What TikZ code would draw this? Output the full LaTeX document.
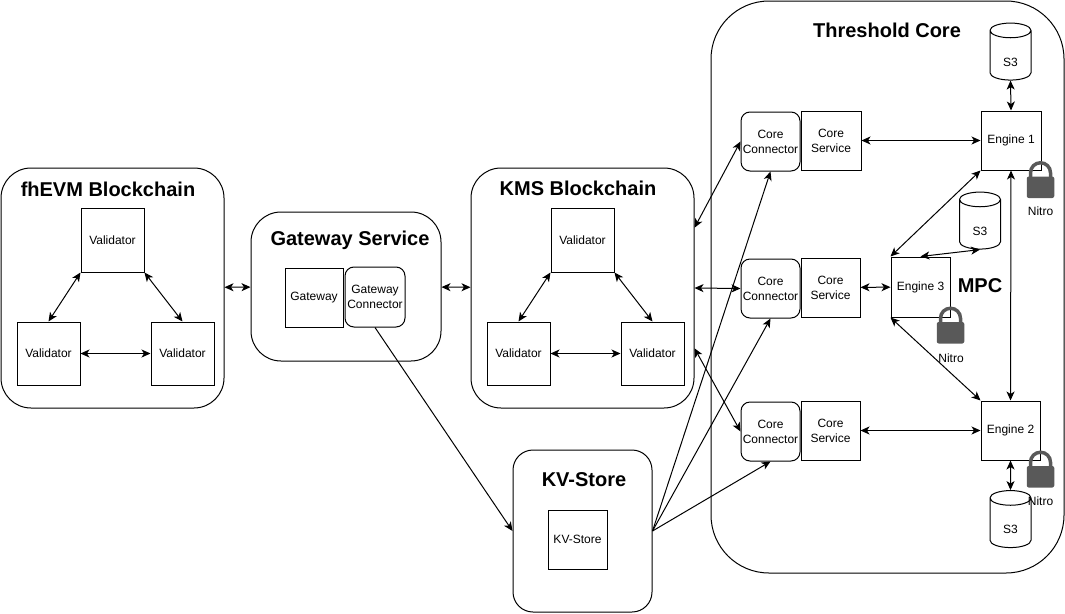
\documentclass[tikz,border=0pt]{standalone}
\usepackage{fontspec}
\setmainfont{Liberation Sans}
\usetikzlibrary{shapes.geometric,arrows.meta,calc}

\begin{document}
\begin{tikzpicture}
[x=1pt,y=-1pt,line width=1pt,>={Stealth[length=9pt,width=8pt,inset=2.5pt]},
font=\fontsize{12}{15}\selectfont,
group/.style = {draw, rounded corners=30pt, inner sep=0pt},
box/.style = {draw, inner sep=0pt, align=center},
connector/.style = {draw, rounded corners=9pt, inner sep=0pt, align=center},
store/.style = {draw, shape=cylinder, shape border rotate=90, aspect=1.0, inner sep=0pt, minimum width=41pt, minimum height=57pt, text height=21pt, text depth=0pt},
heading/.style = {font=\fontsize{20}{24}\selectfont\bfseries},
nitrotext/.style = {inner sep=0pt},
lockpic/.pic = {
\draw[line width=3.5pt,color=lockgray] (-10,0) -- (-10,-7.25) arc[start angle=180,end angle=360,radius=10] -- (10,0);
\fill[lockgray,rounded corners=2pt] (-13.75,-3.5) rectangle (13.75,18);
}]
\definecolor{lockgray}{HTML}{595959}
\useasboundingbox (0,0) rectangle (1065,613);

% groups
\node (fhevm) at (112.5,288)[group,minimum width=223pt,minimum height=240pt] {};
\node (gatewayservice) at (346,286.5)[group,minimum width=190pt,minimum height=149pt] {};
\node (kms) at (582.5,288)[group,minimum width=223pt,minimum height=240pt] {};
\node (kvstore) at (582.5,531)[group,rounded corners=20pt,minimum width=139pt,minimum height=162pt] {};
\node (core) at (887.5,287)[group,rounded corners=58pt,minimum width=353pt,minimum height=572pt] {};

\node at (108,189)[heading] {fhEVM Blockchain};
\node at (350,240)[heading] {Gateway Service};
\node at (578,188)[heading] {KMS Blockchain};
\node at (584,480)[heading] {KV-Store};
\node at (887,30)[heading] {Threshold Core};
\node at (980,286)[heading] {MPC};

% fhEVM validators
\node (fv1) at (112.5,240)[box,minimum width=63pt,minimum height=64pt] {Validator};
\node (fv2) at (48.5,353.5)[box,minimum width=63pt,minimum height=63pt] {Validator};
\node (fv3) at (182.5,353.5)[box,minimum width=63pt,minimum height=63pt] {Validator};

% gateway
\node (gw) at (314,297.5)[box,minimum width=58pt,minimum height=59pt] {Gateway};
\node (gwc) at (375,297)[connector,minimum width=60pt,minimum height=60pt] {Gateway\\Connector};

% KMS validators
\node (kv1) at (582.5,240)[box,minimum width=63pt,minimum height=64pt] {Validator};
\node (kv2) at (518.5,353.5)[box,minimum width=63pt,minimum height=63pt] {Validator};
\node (kv3) at (652.5,353.5)[box,minimum width=63pt,minimum height=63pt] {Validator};

\node (kvbox) at (577.5,539.5)[box,minimum width=59pt,minimum height=59pt] {KV-Store};

% core connectors and services
\node (cc1) at (770.5,141.5)[connector,minimum width=59pt,minimum height=59pt] {Core\\Connector};
\node (cs1) at (831,140.5)[box,minimum width=60pt,minimum height=59pt] {Core\\Service};
\node (cc3) at (770.5,288.5)[connector,minimum width=59pt,minimum height=59pt] {Core\\Connector};
\node (cs3) at (830.5,287.5)[box,minimum width=59pt,minimum height=59pt] {Core\\Service};
\node (cc2) at (770.5,431.5)[connector,minimum width=59pt,minimum height=59pt] {Core\\Connector};
\node (cs2) at (830.5,430.5)[box,minimum width=59pt,minimum height=59pt] {Core\\Service};

% engines
\node (eng1) at (1011,140.5)[box,minimum width=60pt,minimum height=59pt] {Engine 1};
\node (eng3) at (920.5,287)[box,minimum width=59pt,minimum height=60pt] {Engine 3};
\node (eng2) at (1010.5,430.5)[box,minimum width=59pt,minimum height=59pt] {Engine 2};

\node (s31) at (1010.5,55.5)[store] {S3};
\node (s33) at (980,224.5)[store] {S3};
\node (s32) at (1010.5,523)[store] {S3};

% connectors
\draw[<->] (fv1.south west)--(fv2.north);
\draw[<->] (fv1.south east)--(fv3.north);
\draw[<->] (fv2)--(fv3);
\draw[<->] (fhevm)--(gatewayservice);
\draw[<->] (gatewayservice)--(kms);
\draw[<->] (kv1.south west)--(kv2.north);
\draw[<->] (kv1.south east)--(kv3.north);
\draw[<->] (kv2)--(kv3);
\draw[->] (gwc.south)--(kvstore.west);
\draw[<->] ($(kms.north east)!.25!(kms.south east)$)--(cc1.west);
\draw[<->] (kms.east)--(cc3.west);
\draw[<->] ($(kms.north east)!.75!(kms.south east)$)--(cc2.west);
\draw[->] (kvstore.east)--(cc1.south);
\draw[->] (kvstore.east)--(cc3.south);
\draw[->] (kvstore.east)--(cc2.south);
\draw[<->] (cs1)--(eng1);
\draw[<->] (cs3)--(eng3);
\draw[<->] (cs2)--(eng2);
\draw[<->] (s31.south)--(eng1.north);
\draw[<->] (eng1.south west)--(eng3.north west);
\draw[<->] (eng3.north)--(s33.south);
\draw[<->] (eng3.south west)--(eng2.north west);
\draw[<->] (eng1.south)--(eng2.north);
\draw[<->] (eng2.south)--(s32.north);

% locks
\pic at (1040.5,180) {lockpic};
\pic at (950.5,325.5) {lockpic};
\pic at (1040.5,469.5) {lockpic};
\node (nitro1) at (1040.5,211)[nitrotext] {Nitro};
\node (nitro3) at (951,358)[nitrotext] {Nitro};
\node (nitro2) at (1040.5,501)[nitrotext] {Nitro};
\end{tikzpicture}
\end{document}
